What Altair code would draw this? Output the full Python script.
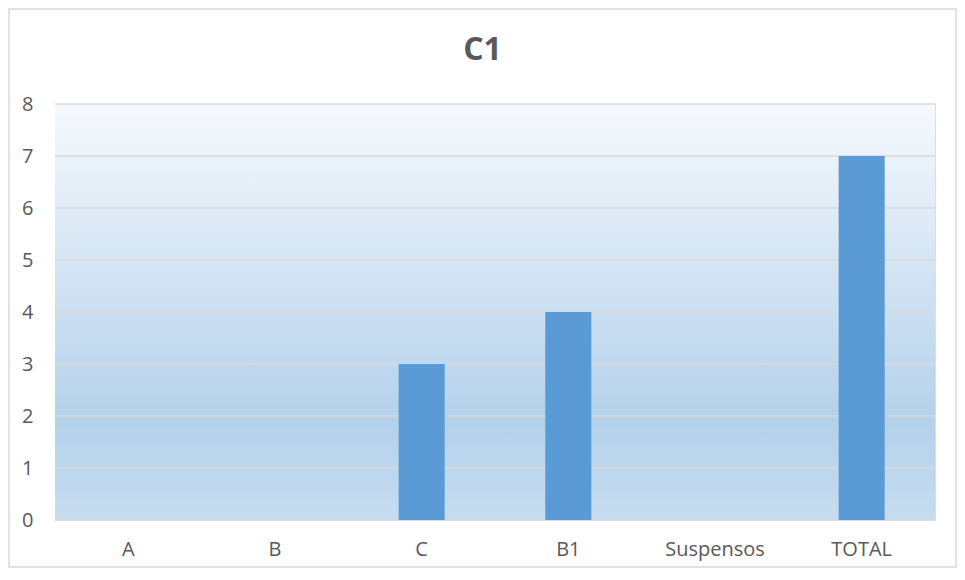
import altair as alt
import pandas as pd

title_text = "C1"
categories = ["A", "B", "C", "B1", "Suspensos", "TOTAL"]
values = [0, 0, 3, 4, 0, 7]
y_ticks = [0, 1, 2, 3, 4, 5, 6, 7, 8]

W, H = 880, 416
PAD_L, PAD_T, PAD_R, PAD_B = 47, 96, 22, 48
FONT = "Open Sans"
LABEL = "#595959"
GRID = "#D9D9D9"

bars_df = pd.DataFrame({"cat": categories, "val": values})
grid_df = pd.DataFrame({"v": y_ticks})
one = pd.DataFrame({"t": [title_text]})

xscale = alt.Scale(domain=categories, paddingInner=0.686, paddingOuter=0.343)
yscale = alt.Scale(domain=[0, 8], nice=False)
yaxis = alt.Axis(title=None, domain=False, ticks=False, grid=False,
                 values=y_ticks, labelFont=FONT, labelFontSize=20,
                 labelColor=LABEL, labelPadding=22, zindex=2)

gradient = alt.LinearGradient(
    gradient="linear",
    stops=[
        alt.GradientStop(color="#F6F9FD", offset=0),
        alt.GradientStop(color="#B4D1EB", offset=0.76),
        alt.GradientStop(color="#C6DCF0", offset=1),
    ],
    x1=0, x2=0, y1=0, y2=1,
)

border = alt.Chart(one).mark_rect(fillOpacity=0, stroke=GRID, strokeWidth=1.5).encode(
    x=alt.value(-PAD_L + 1), x2=alt.value(W + PAD_R - 1),
    y=alt.value(-PAD_T + 1), y2=alt.value(H + PAD_B - 1),
)

bg = alt.Chart(one).mark_rect(color=gradient).encode(
    x=alt.value(0), x2=alt.value(W), y=alt.value(0), y2=alt.value(H)
)

grid = alt.Chart(grid_df).mark_rule(color=GRID, strokeWidth=1.5).encode(
    y=alt.Y("v:Q", scale=yscale, axis=yaxis),
    x=alt.value(0), x2=alt.value(W),
)

bars = alt.Chart(bars_df).mark_bar(color="#5B9BD5").encode(
    x=alt.X("cat:N", scale=xscale, sort=categories,
            axis=alt.Axis(title=None, domain=False, ticks=False, labelAngle=0,
                          labelFont=FONT, labelFontSize=20, labelColor=LABEL,
                          labelPadding=19, labelBaseline="top", zindex=2)),
    y=alt.Y("val:Q", scale=yscale, axis=yaxis),
)

title = alt.Chart(one).mark_text(
    font=FONT, fontSize=32, fontWeight="bold", color=LABEL,
    align="center", baseline="alphabetic",
).encode(text="t:N", x=alt.value(427.5), y=alt.value(-44))

chart = alt.layer(border, bg, grid, bars, title).properties(
    width=W, height=H,
    autosize=alt.AutoSizeParams(type="none"),
    padding={"left": PAD_L, "top": PAD_T, "right": PAD_R, "bottom": PAD_B},
).configure_view(stroke=None).configure(background="white")

chart.save("out.html", embed_options={"renderer": "svg", "actions": False})
